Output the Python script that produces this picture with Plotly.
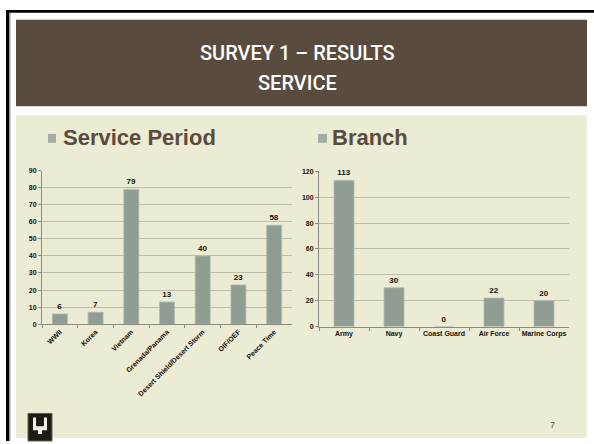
import plotly.graph_objects as go

# data
period_labels = ["WWII", "Korea", "Vietnam", "Grenada/Panama",
                 "Desert Shield/Desert Storm", "OIF/OEF", "Peace Time"]
period_counts = [6, 7, 79, 13, 40, 23, 58]
branch_labels = ["Army", "Navy", "Coast Guard", "Air Force", "Marine Corps"]
branch_counts = [113, 30, 0, 22, 20]

W, H = 594, 444
BROWN = "#594C3E"
BEIGE = "#ECEBD3"
BAR = "#8F9D93"
GRID = "#BDBDAE"


def px(x):
    return x / W


def py(y):
    return 1 - y / H


fig = go.Figure()
fig.add_trace(go.Bar(
    x=period_labels, y=period_counts, xaxis="x", yaxis="y",
    marker=dict(color=BAR, line=dict(color="#B4BDB5", width=0.8)),
    width=0.42, text=period_counts, textposition="outside", cliponaxis=False,
    textfont=dict(family="Liberation Sans", size=8, color="#111", weight="bold"),
    showlegend=False))
fig.add_trace(go.Bar(
    x=branch_labels, y=branch_counts, xaxis="x2", yaxis="y2",
    marker=dict(color=BAR, line=dict(color="#B4BDB5", width=0.8)),
    width=0.4, text=branch_counts, textposition="outside", cliponaxis=False,
    textfont=dict(family="Liberation Sans", size=8, color="#111", weight="bold"),
    showlegend=False))

tickfont = dict(family="Liberation Sans", size=7, color="#111", weight="bold")
xcommon = dict(showgrid=False, showline=True, linecolor="#8A8A80", linewidth=1,
               ticks="outside", ticklen=3, tickcolor="#8A8A80",
               tickson="boundaries", tickfont=tickfont, fixedrange=True)
ycommon = dict(showgrid=True, gridcolor=GRID, gridwidth=1, showline=True,
               linecolor="#8A8A80", linewidth=1, ticks="outside", ticklen=3,
               tickcolor="#8A8A80", tickfont=tickfont, zeroline=False,
               fixedrange=True)

shapes = [
    # frame lines
    dict(type="rect", xref="paper", yref="paper", x0=px(6), x1=px(9),
         y0=py(444), y1=py(6), fillcolor="black", line_width=0, layer="below"),
    dict(type="rect", xref="paper", yref="paper", x0=px(9), x1=px(10.5),
         y0=py(444), y1=py(9), fillcolor="#9A9A9A", line_width=0, layer="below"),
    dict(type="rect", xref="paper", yref="paper", x0=px(6), x1=1,
         y0=py(9), y1=py(6), fillcolor="black", line_width=0, layer="below"),
    # header
    dict(type="rect", xref="paper", yref="paper", x0=px(16), x1=px(587),
         y0=py(104), y1=py(16), fillcolor=BROWN, line_width=0, layer="below"),
    # content panel
    dict(type="rect", xref="paper", yref="paper", x0=px(16), x1=px(587),
         y0=py(441), y1=py(113), fillcolor=BEIGE, line_width=0, layer="below"),
    # legend squares
    dict(type="rect", xref="paper", yref="paper", x0=px(48), x1=px(56),
         y0=py(141), y1=py(132), fillcolor="#A3ADA5", line_width=0),
    dict(type="rect", xref="paper", yref="paper", x0=px(318), x1=px(327),
         y0=py(141), y1=py(132), fillcolor="#A3ADA5", line_width=0),
    # logo
    dict(type="rect", xref="paper", yref="paper", x0=px(28), x1=px(52),
         y0=py(444), y1=py(416), fillcolor="#1E1A14",
         line=dict(color="#6B5F4A", width=1)),
    dict(type="path", xref="paper", yref="paper",
         path=(f"M {px(33)} {py(420)} L {px(36)} {py(420)} L {px(36)} {py(429)} "
               f"L {px(44)} {py(429)} L {px(44)} {py(420)} L {px(47)} {py(420)} "
               f"L {px(47)} {py(433)} L {px(42)} {py(433)} L {px(42)} {py(437)} "
               f"L {px(38)} {py(437)} L {px(38)} {py(433)} L {px(33)} {py(433)} Z"),
         fillcolor="#F4EFE0", line_width=0),
]

title_font = dict(family="Roboto", size=20, color="white", weight=500)
legend_font = dict(family="Liberation Sans", size=22, color=BROWN, weight="bold")
annotations = [
    dict(text="SURVEY 1 – RESULTS", x=0.5, y=py(50), font=title_font),
    dict(text="SERVICE", x=0.5, y=py(80), font=title_font),
    dict(text="Service Period", x=px(61), y=py(136), xanchor="left",
         font=legend_font),
    dict(text="Branch", x=px(330), y=py(136), xanchor="left",
         font=legend_font),
    dict(text="7", x=px(557), y=py(428),
         font=dict(family="Liberation Sans", size=9, color="#555")),
]
for a in annotations:
    a.update(xref="paper", yref="paper", yanchor="middle", showarrow=False)

fig.update_layout(
    width=W, height=H, margin=dict(l=0, r=0, t=0, b=0),
    paper_bgcolor="white", plot_bgcolor="rgba(0,0,0,0)",
    xaxis=dict(domain=[px(42), px(292)], anchor="y", tickangle=-45, **xcommon),
    yaxis=dict(domain=[py(325.3), py(169.3)], anchor="x", range=[0, 90],
               dtick=10, **ycommon),
    xaxis2=dict(domain=[px(319), px(569)], anchor="y2", tickangle=0, **xcommon),
    yaxis2=dict(domain=[py(327.7), py(170)], anchor="x2", range=[0, 120],
                dtick=20, **ycommon),
    shapes=shapes, annotations=annotations,
)

fig.write_html("out.html", config=dict(displayModeBar=False),
               post_script="document.body.style.margin = '0';")
